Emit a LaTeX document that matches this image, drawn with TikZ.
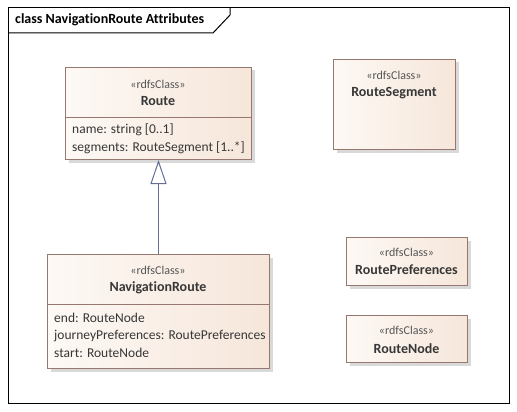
\documentclass[tikz,border=0pt]{standalone}
\usepackage{fontspec}
\setmainfont{Carlito}[Ligatures=NoCommon]
\usepackage{tikz}
\usetikzlibrary{arrows.meta,positioning,shadows}
\definecolor{clsborder}{RGB}{150, 120, 112}
\definecolor{clsleft}{RGB}{253, 249, 245}
\definecolor{clsright}{RGB}{246, 230, 218}
\definecolor{stereogray}{RGB}{85, 85, 85}
\definecolor{clstext}{RGB}{55, 55, 55}
\definecolor{genblue}{RGB}{100, 110, 150}

\tikzset{
    classbox/.style={draw=clsborder, line width=1pt, left color=clsleft, right color=clsright,
        anchor=north west, inner sep=0pt,
        drop shadow={shadow xshift=3pt, shadow yshift=-3pt, opacity=0.3, fill=gray}},
    stereo/.style={font=\fontsize{12}{14}\selectfont, text=stereogray},
    clsname/.style={font=\bfseries\fontsize{14}{16}\selectfont, text=clstext},
    attr/.style={font=\fontsize{13.5}{16}\selectfont, text=clstext, anchor=west, inner sep=0pt}
}

\begin{document}
\begin{tikzpicture}[x=1pt, y=-1pt]
        \useasboundingbox (0,0) rectangle (517,412);
        % diagram frame
        \draw[line width=1pt] (8,8) rectangle (509,403);
        \draw[line width=1pt] (8,33) -- (213,33) -- (230,15) -- (230,8);
        \node[font=\bfseries\fontsize{14}{16}\selectfont, anchor=west, inner sep=0pt] (title) at (15,20) {class NavigationRoute Attributes};

        % Route
        \node[classbox, minimum width=186pt, minimum height=50pt] (routeHead) at (65,67) {};
        \node[classbox, minimum width=186pt, minimum height=42pt] (routeBody) at (65,117) {};
        \node[stereo] (routeStereo) at (158,84) {«rdfsClass»};
        \node[clsname] (routeName) at (158,101) {Route};
        \node[attr] (routeName1) at (72,130) {name: string [0..1]};
        \node[attr] (routeSeg) at (72,148) {segments: RouteSegment [1..*]};

        % NavigationRoute
        \node[classbox, minimum width=222pt, minimum height=50pt] (navHead) at (47,254) {};
        \node[classbox, minimum width=222pt, minimum height=64pt] (navBody) at (47,304) {};
        \node[stereo] (navStereo) at (158,270) {«rdfsClass»};
        \node[clsname] (navName) at (158,288) {NavigationRoute};
        \node[attr] (navEnd) at (54,318) {end: RouteNode};
        \node[attr] (navPref) at (54,336) {journeyPreferences: RoutePreferences};
        \node[attr] (navStart) at (54,353) {start: RouteNode};

        % generalization
        \draw[genblue, line width=1pt, -{Triangle[open, length=24pt, width=16pt, fill=white]}] (navHead.north) -- (routeBody.south);

        % RouteSegment
        \node[classbox, minimum width=122pt, minimum height=90pt] (segBox) at (333,59) {};
        \node[stereo] (segStereo) at (394,75) {«rdfsClass»};
        \node[clsname] (segName) at (394,93) {RouteSegment};

        % RoutePreferences
        \node[classbox, minimum width=121pt, minimum height=48pt] (prefBox) at (346,237) {};
        \node[stereo] (prefStereo) at (406.5,252) {«rdfsClass»};
        \node[clsname] (prefName) at (406.5,270) {RoutePreferences};

        % RouteNode
        \node[classbox, minimum width=121pt, minimum height=47pt] (nodeBox) at (346,315) {};
        \node[stereo] (nodeStereo) at (406.5,330) {«rdfsClass»};
        \node[clsname] (nodeName) at (406.5,349) {RouteNode};
\end{tikzpicture}
\end{document}
